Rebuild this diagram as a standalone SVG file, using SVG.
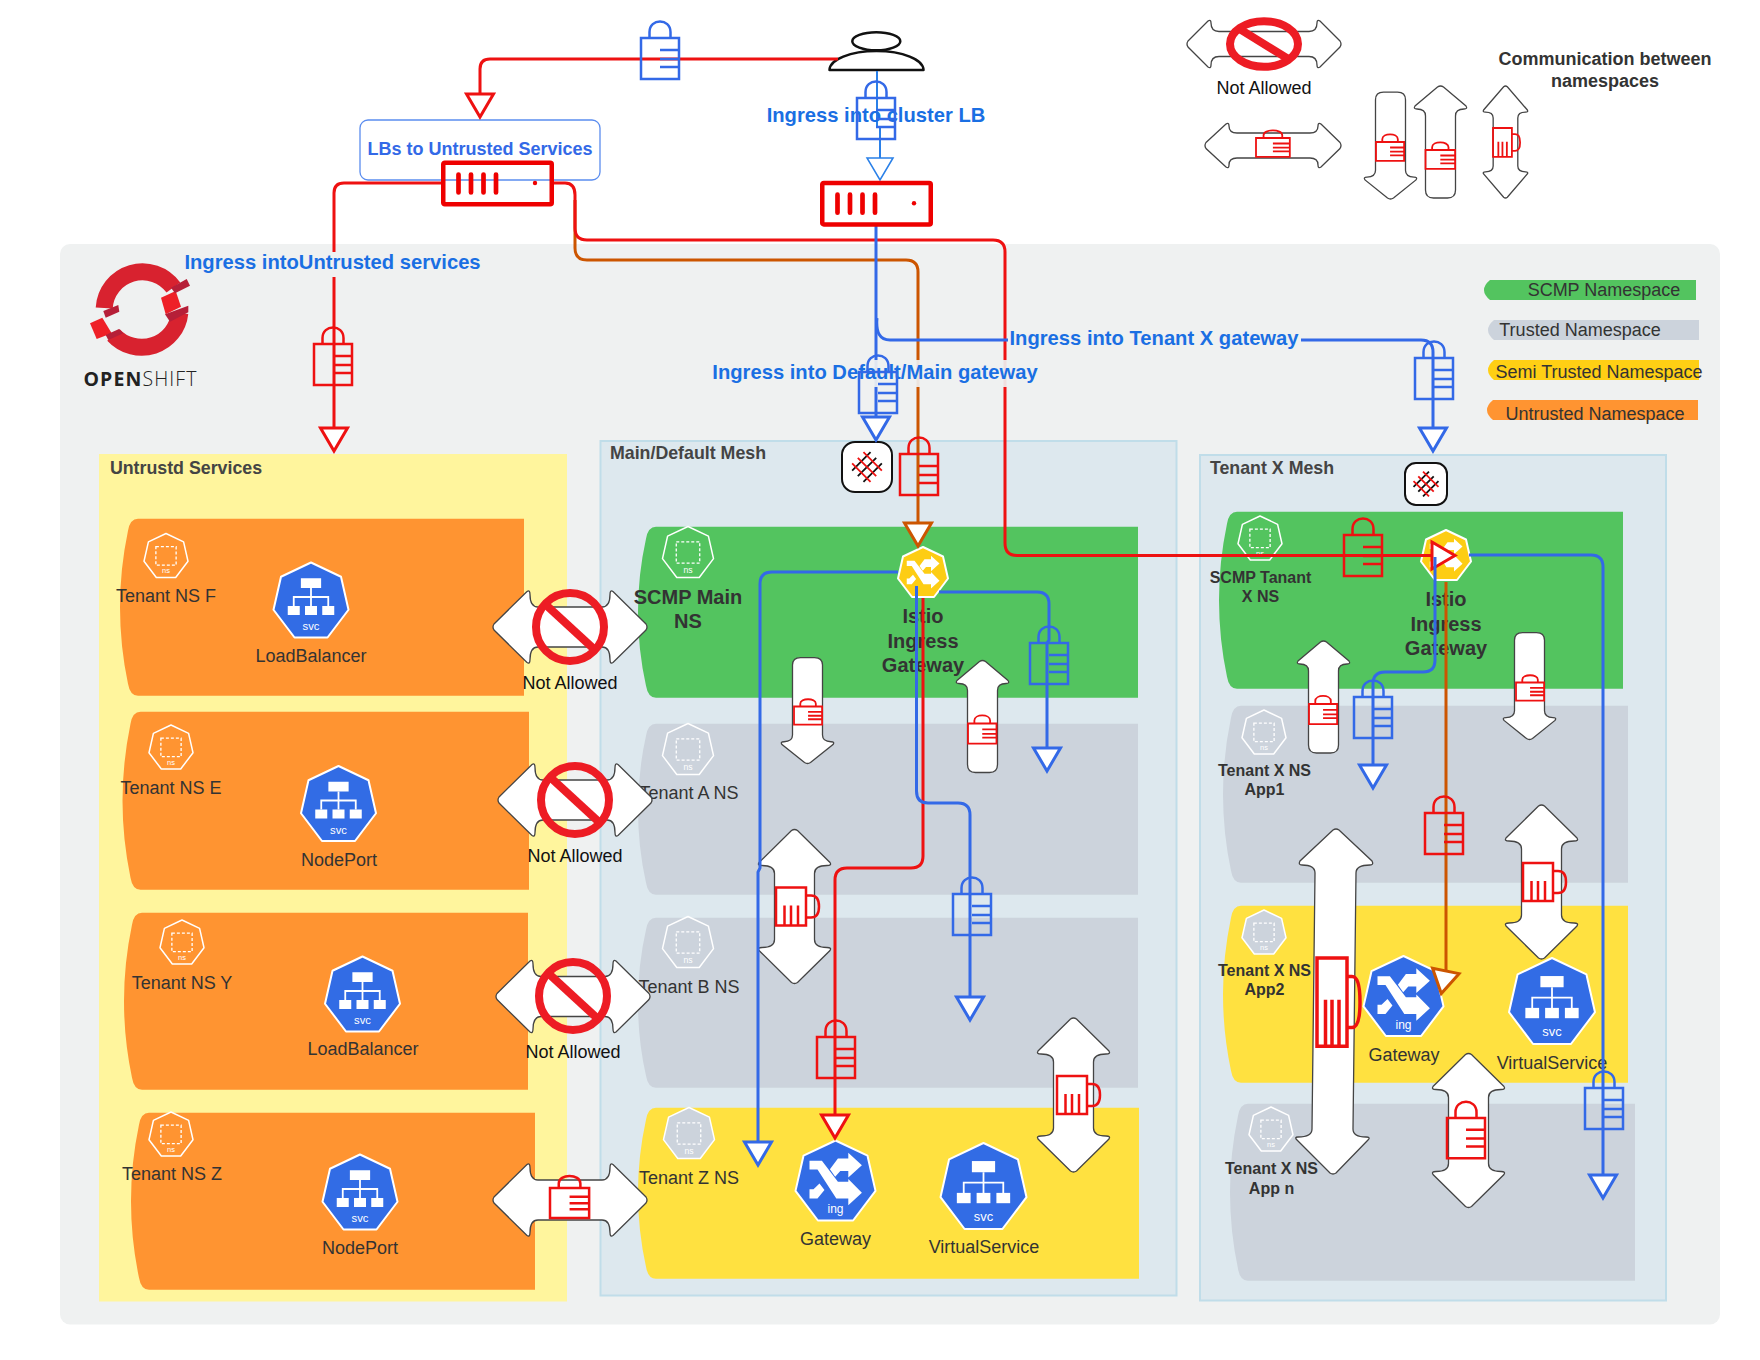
<svg xmlns="http://www.w3.org/2000/svg" xmlns:xlink="http://www.w3.org/1999/xlink" width="1760" height="1360" viewBox="0 0 1760 1360">
<style>
text{font-family:"Liberation Sans",Arial,sans-serif;text-anchor:middle;dominant-baseline:central;fill:#333}
.t18{font-size:18px;transform:translate(0,1px)}
.na{font-size:18px;fill:#111;transform:translate(0,1px)}
.b18{font-size:17.800px;font-weight:700;fill:#444}
.b20{font-size:20px;font-weight:700}
.b16{font-size:16px;font-weight:700;transform:translate(0,.7px)}
.lb{font-size:20.200px;font-weight:700;fill:#1a6fe3}
.lg{font-size:18px}
.tag{font-size:15px;fill:#fff}
.nst{font-size:17px;fill:#fff}
.ar{fill:#fff;stroke:#444;stroke-width:1.3}
.ns{fill:none;stroke:#fff;stroke-width:1.5}
.nsg{fill:#ccd3dc;stroke:#fff;stroke-width:1.5}
.r{stroke:#ee1111;fill:none;stroke-width:2.5}
.b{stroke:#3369e7;fill:none;stroke-width:2.5}
.thin{stroke-width:1.8}
.c{fill:none;stroke-width:3}
.cr{stroke:#ee1111}.cb{stroke:#3369e7}.co{stroke:#cc5500}
.area{transform:translate(0,.8px)}
defs *{vector-effect:non-scaling-stroke}
</style>
<defs>
<polygon id="hept" points="0,-50 40,-31 50,13 22,50 -22,50 -50,13 -40,-31" stroke-linejoin="round"/>
<g id="lock"><rect x="0" y="0" width="38" height="41"/><path d="M8.500 0V-6C8.500 -20 29.500 -20 29.500 -6V0M19 12H38M19 21H38M19 29H38"/></g>
<g id="mug"><rect x="0" y="0" width="30" height="38"/><path d="M30 8H35Q43 8 43 19Q43 30 35 30H30M8.500 18V38M15 18V38M22 18V38"/></g>
<g id="prohibit"><circle r="34" fill="none" stroke="#ed1c24" stroke-width="8"/><line x1="-25" y1="-23" x2="25" y2="23" stroke="#ed1c24" stroke-width="8"/></g>
<path id="arrowH" d="M1 33.500L34 1Q37 -1 37 4Q37 16.500 45 16.500L109 16.500Q117 16.500 117 4Q117 -1 120 1L153 33.500Q155 36.500 153 39.500L120 72Q117 74 117 69Q117 56.500 109 56.500L45 56.500Q37 56.500 37 69Q37 74 34 72L1 39.500Q-1 36.500 1 33.500Z"/>
<path id="arrowV" d="M33.500 1Q36.500 -1 39.500 1L72 33Q74 36 69 36Q56.500 36 56.500 44L56.500 110Q56.500 118 69 118Q74 118 72 121L39.500 153Q36.500 155 33.500 153L1 121Q-1 118 4 118Q16.500 118 16.500 110L16.500 44Q16.500 36 4 36Q-1 36 1 33Z"/>
<path id="arrowU" d="M23.500 1Q26.500 -1 29.500 1L52 20Q54 23 50 23Q41.500 23 41.500 30L41.500 104Q41.500 112 33.500 112L19.500 112Q11.500 112 11.500 104L11.500 30Q11.500 23 3 23Q-1 23 1 20Z"/>
<g id="svcicon" fill="#fff"><use href="#hept" fill="#326ce5" stroke="#fff" stroke-width="2"/><rect x="-13.500" y="-29" width="27" height="13"/><rect x="-31" y="8" width="16" height="12"/><rect x="-8" y="8" width="16" height="12"/><rect x="15" y="8" width="16" height="12"/><path d="M0 -16V8M-23 8V-4H23V8" fill="none" stroke="#fff" stroke-width="1.800"/></g>
<g id="xarrows" fill="#fff"><polygon points="-32.500,-24.600 -17,-24.600 3,1.700 16,1.700 16,-2 33,15.400 16,31 16,22.500 1,22.500 -22.500,-13.800 -32.500,-13.800"/><polygon points="-32.500,11 -27.500,11 -20,3.700 -13.800,12 -22.500,22.500 -32.500,22.500"/><polygon points="16,-34.600 33,-19 16,-3.700 16,-12 6,-12 -0.400,-4.600 -7,-14 3,-27.500 16,-27.500"/></g>
<g id="meshicon"><rect x="-25" y="-25" width="50" height="50" rx="13" fill="#fff" stroke="#111" stroke-width="2"/><path transform="rotate(-45)" d="M-13 -8H13M-13 0H13M-13 8H13" stroke="#111" stroke-width="1.800" fill="none"/><path transform="rotate(45)" d="M-13 -8H13M-13 0H13M-13 8H13" stroke="#ee1111" stroke-width="1.800" fill="none"/></g>
<g id="device"><rect x="2.250" y="2.250" width="108.500" height="41.500" rx="1.500" fill="none" stroke="#ee0000" stroke-width="4.500"/><path d="M17.500 14V32M30 14V32M42.500 14V32M55 14V32" stroke="#ee0000" stroke-width="4.700" stroke-linecap="round"/><circle cx="94" cy="22.500" r="2.200" fill="#ee0000"/></g>
<marker id="mr" markerUnits="userSpaceOnUse" markerWidth="26" markerHeight="30" viewBox="0 0 26 30" refX="0" refY="15" orient="auto" overflow="visible"><polygon points="0,1.500 23,15 0,28.500" fill="#fff" stroke="#ee1111" stroke-width="3"/></marker>
<marker id="mb" markerUnits="userSpaceOnUse" markerWidth="26" markerHeight="30" viewBox="0 0 26 30" refX="0" refY="15" orient="auto" overflow="visible"><polygon points="0,1.500 23,15 0,28.500" fill="#fff" stroke="#3369e7" stroke-width="3"/></marker>
<marker id="mo" markerUnits="userSpaceOnUse" markerWidth="26" markerHeight="30" viewBox="0 0 26 30" refX="0" refY="15" orient="auto" overflow="visible"><polygon points="0,1.500 23,15 0,28.500" fill="#fff" stroke="#cc5500" stroke-width="3"/></marker>
<marker id="mt" markerUnits="userSpaceOnUse" markerWidth="26" markerHeight="30" viewBox="0 0 26 30" refX="0" refY="15" orient="auto" overflow="visible"><polygon points="0,2 22,15 0,28" fill="#fff" stroke="#2a80e8" stroke-width="1.500"/></marker>
</defs>

<rect width="1760" height="1360" fill="#fff"/>
<rect id="openshift-panel" x="60" y="244" width="1660" height="1080.500" rx="10" fill="#eff1f1"/>

<g id="logo">
<path d="M173.400 287.600A38.300 38.300 0 0 0 104.200 308M113.500 334.900A38.300 38.300 0 0 0 179.800 313" fill="none" stroke="#d8222f" stroke-width="17"/>
<polygon points="161,297.700 175.700,291 181,306.700 165.700,314.300" fill="#ee2027"/>
<polygon points="90,323.300 102.300,317.700 111.700,333.300 96.700,339" fill="#ee2027"/>
<polygon points="171,287.700 186.700,279 190,285.700 175,293.300" fill="#b61f38"/>
<polygon points="103.300,311 118.300,305 119.300,311.700 105.700,317.700" fill="#b61f38"/>
<polygon points="165,314.300 188.300,305.700 188.300,312.300 170,321.700" fill="#b61f38"/>
<polygon points="105.700,335 119,329 123.300,333.300 108.300,340" fill="#b61f38"/>
<text x="140.500" y="378" style="font-family:'Open Sans','Liberation Sans',sans-serif;font-size:19.500px;letter-spacing:1.100px;fill:#222"><tspan font-weight="700">OPEN</tspan><tspan font-weight="300">SHIFT</tspan></text>
</g>

<g id="legend-namespaces">
<path d="M1490 280H1696V300H1490Q1484 295 1484 290Q1484 285 1490 280Z" fill="#53c45f"/>
<text class="lg" x="1604" y="290">SCMP Namespace</text>
<path d="M1494 320H1699V340H1494Q1488 335 1488 330Q1488 325 1494 320Z" fill="#ccd3dc"/>
<text class="lg" x="1580" y="330">Trusted Namespace</text>
<path d="M1494 360H1699V380H1494Q1488 375 1488 370Q1488 365 1494 360Z" fill="#ffcf14"/>
<text class="lg" x="1599" y="372">Semi Trusted Namespace</text>
<path d="M1493 400H1698V420H1493Q1487 415 1487 410Q1487 405 1493 400Z" fill="#ff9431"/>
<text class="lg" x="1595" y="414">Untrusted Namespace</text>
<text class="b18" style="fill:#333;font-size:18px" x="1605" y="59">Communication between</text>
<text class="b18" style="fill:#333;font-size:18px" x="1605" y="81">namespaces</text>
</g>

<g id="untrusted-services">
<rect x="99" y="454" width="468" height="847.500" fill="#fff59d"/>
<text class="b18" x="186" y="468">Untrustd Services</text>
</g>
<g id="main-mesh">
<rect x="600.500" y="441" width="576" height="854.500" fill="#dde8ee" stroke="#c0dde9" stroke-width="2"/>
<text class="b18" x="688" y="453">Main/Default Mesh</text>
</g>
<g id="tenant-mesh">
<rect x="1200" y="455" width="466" height="845.500" fill="#dde8ee" stroke="#c0dde9" stroke-width="2"/>
<text class="b18" x="1272" y="468">Tenant X Mesh</text>
</g>

<g id="ns-f"><path class="area" d="M138 518H524V695H138Q130 695 128 683Q120 645 120 606.500Q120 568 128 530Q130 518 138 518Z" fill="#ff9431"/>
<g transform="translate(166,555.500) scale(.44)"><use href="#hept" class="ns"/><rect x="-23" y="-20" width="46" height="42" fill="none" stroke="#fff" stroke-width="1.300" stroke-dasharray="3 2" vector-effect="non-scaling-stroke"/><text class="nst" y="35">ns</text></g>
<text class="t18" x="166" y="595">Tenant NS F</text></g>
<g id="ns-e"><path class="area" d="M140.500 711H529V889H140.500Q132.500 889 130.500 877Q122.500 838 122.500 800Q122.500 762 130.500 723Q132.500 711 140.500 711Z" fill="#ff9431"/>
<g transform="translate(171,747) scale(.44)"><use href="#hept" class="ns"/><rect x="-23" y="-20" width="46" height="42" fill="none" stroke="#fff" stroke-width="1.300" stroke-dasharray="3 2" vector-effect="non-scaling-stroke"/><text class="nst" y="35">ns</text></g>
<text class="t18" x="171" y="787">Tenant NS E</text></g>
<g id="ns-y"><path class="area" d="M142 912H528V1089H142Q134 1089 132 1077Q124 1039 124 1000.500Q124 962 132 924Q134 912 142 912Z" fill="#ff9431"/>
<g transform="translate(182,942) scale(.44)"><use href="#hept" class="ns"/><rect x="-23" y="-20" width="46" height="42" fill="none" stroke="#fff" stroke-width="1.300" stroke-dasharray="3 2" vector-effect="non-scaling-stroke"/><text class="nst" y="35">ns</text></g>
<text class="t18" x="182" y="982">Tenant NS Y</text></g>
<g id="ns-z"><path class="area" d="M149 1112H535V1289H149Q141 1289 139 1277Q131 1239 131 1200.500Q131 1162 139 1124Q141 1112 149 1112Z" fill="#ff9431"/>
<g transform="translate(171,1134) scale(.44)"><use href="#hept" class="ns"/><rect x="-23" y="-20" width="46" height="42" fill="none" stroke="#fff" stroke-width="1.300" stroke-dasharray="3 2" vector-effect="non-scaling-stroke"/><text class="nst" y="35">ns</text></g>
<text class="t18" x="172" y="1173">Tenant NS Z</text></g>

<g id="svc-lb-f"><g transform="translate(311,600) scale(.75)"><use href="#svcicon"/><text class="tag" y="35">svc</text></g><text class="t18" x="311" y="655">LoadBalancer</text></g>
<g id="svc-np-e"><g transform="translate(338.500,803.500) scale(.75)"><use href="#svcicon"/><text class="tag" y="35">svc</text></g><text class="t18" x="339" y="859">NodePort</text></g>
<g id="svc-lb-y"><g transform="translate(362.500,994) scale(.75)"><use href="#svcicon"/><text class="tag" y="35">svc</text></g><text class="t18" x="363" y="1048">LoadBalancer</text></g>
<g id="svc-np-z"><g transform="translate(360,1192) scale(.75)"><use href="#svcicon"/><text class="tag" y="35">svc</text></g><text class="t18" x="360" y="1247">NodePort</text></g>

<g id="scmp-main"><path class="area" d="M656 526H1138V697H656Q648 697 646 685Q638 649 638 611.500Q638 574 646 538Q648 526 656 526Z" fill="#53c45f"/>
<g transform="translate(688,552) scale(.51)"><use href="#hept" class="ns"/><rect x="-23" y="-20" width="46" height="42" fill="none" stroke="#fff" stroke-width="1.300" stroke-dasharray="3 2" vector-effect="non-scaling-stroke"/><text class="nst" y="35">ns</text></g>
<text class="b20" x="688" y="596.500">SCMP Main</text><text class="b20" x="688" y="621">NS</text></g>
<g id="tenant-a"><path class="area" d="M656 723H1138V894H656Q648 894 646 882Q638 846 638 808.500Q638 771 646 735Q648 723 656 723Z" fill="#ccd3dc"/>
<g transform="translate(688,749) scale(.51)"><use href="#hept" class="ns"/><rect x="-23" y="-20" width="46" height="42" fill="none" stroke="#fff" stroke-width="1.300" stroke-dasharray="3 2" vector-effect="non-scaling-stroke"/><text class="nst" y="35">ns</text></g>
<text class="t18" x="689" y="792">Tenant A NS</text></g>
<g id="tenant-b"><path class="area" d="M656 917H1138V1087H656Q648 1087 646 1075Q638 1040 638 1002Q638 964 646 929Q648 917 656 917Z" fill="#ccd3dc"/>
<g transform="translate(688,942) scale(.51)"><use href="#hept" class="ns"/><rect x="-23" y="-20" width="46" height="42" fill="none" stroke="#fff" stroke-width="1.300" stroke-dasharray="3 2" vector-effect="non-scaling-stroke"/><text class="nst" y="35">ns</text></g>
<text class="t18" x="689" y="986">Tenant B NS</text></g>
<g id="tenant-z"><path class="area" d="M656 1107H1139V1278H656Q648 1278 646 1266Q638 1230 638 1192.500Q638 1155 646 1119Q648 1107 656 1107Z" fill="#ffe140"/>
<g transform="translate(689,1133) scale(.51)"><use href="#hept" class="nsg"/><rect x="-23" y="-20" width="46" height="42" fill="none" stroke="#fff" stroke-width="1.300" stroke-dasharray="3 2" vector-effect="non-scaling-stroke"/><text class="nst" y="35">ns</text></g>
<text class="t18" x="689" y="1177">Tenant Z NS</text></g>

<g id="istio-main"><g transform="translate(923,572) scale(.5)"><use href="#hept" fill="#fdcd14" stroke="#fff" stroke-width="2"/><use href="#xarrows" y="2"/></g>
<text class="b20" x="923" y="616">Istio</text><text class="b20" x="923" y="640.500">Ingress</text><text class="b20" x="923" y="664.500">Gateway</text></g>
<g id="ing-z"><g transform="translate(835.500,1180.500) scale(.8)"><use href="#hept" fill="#326ce5" stroke="#fff" stroke-width="2"/><use href="#xarrows"/><text class="tag" y="36">ing</text></g><text class="t18" x="835.500" y="1238">Gateway</text></g>
<g id="svc-z"><g transform="translate(983.500,1186) scale(.86)"><use href="#svcicon"/><text class="tag" y="35">svc</text></g><text class="t18" x="984" y="1246">VirtualService</text></g>
<g id="mesh-main"><use href="#meshicon" transform="translate(867,467)"/></g>

<g id="scmp-tenant"><path class="area" d="M1237 511H1623V688H1237Q1229 688 1227 676Q1219 638 1219 599.500Q1219 561 1227 523Q1229 511 1237 511Z" fill="#53c45f"/>
<g transform="translate(1260,538) scale(.44)"><use href="#hept" class="ns"/><rect x="-23" y="-20" width="46" height="42" fill="none" stroke="#fff" stroke-width="1.300" stroke-dasharray="3 2" vector-effect="non-scaling-stroke"/><text class="nst" y="35">ns</text></g>
<text class="b16" x="1260.500" y="577">SCMP Tanant</text><text class="b16" x="1260.500" y="596">X NS</text></g>
<g id="app1"><path class="area" d="M1241 705H1628V882H1241Q1233 882 1231 870Q1223 832 1223 793.500Q1223 755 1231 717Q1233 705 1241 705Z" fill="#ccd3dc"/>
<g transform="translate(1264,732) scale(.44)"><use href="#hept" class="ns"/><rect x="-23" y="-20" width="46" height="42" fill="none" stroke="#fff" stroke-width="1.300" stroke-dasharray="3 2" vector-effect="non-scaling-stroke"/><text class="nst" y="35">ns</text></g>
<text class="b16" x="1264.500" y="770">Tenant X NS</text><text class="b16" x="1264.500" y="789">App1</text></g>
<g id="app2"><path class="area" d="M1241 905H1628V1082H1241Q1233 1082 1231 1070Q1223 1032 1223 993.500Q1223 955 1231 917Q1233 905 1241 905Z" fill="#ffe140"/>
<g transform="translate(1264,932) scale(.44)"><use href="#hept" class="nsg"/><rect x="-23" y="-20" width="46" height="42" fill="none" stroke="#fff" stroke-width="1.300" stroke-dasharray="3 2" vector-effect="non-scaling-stroke"/><text class="nst" y="35">ns</text></g>
<text class="b16" x="1264.500" y="970">Tenant X NS</text><text class="b16" x="1264.500" y="989">App2</text></g>
<g id="appn"><path class="area" d="M1248 1103H1635V1280H1248Q1240 1280 1238 1268Q1230 1230 1230 1191.500Q1230 1153 1238 1115Q1240 1103 1248 1103Z" fill="#ccd3dc"/>
<g transform="translate(1271,1129) scale(.44)"><use href="#hept" class="ns"/><rect x="-23" y="-20" width="46" height="42" fill="none" stroke="#fff" stroke-width="1.300" stroke-dasharray="3 2" vector-effect="non-scaling-stroke"/><text class="nst" y="35">ns</text></g>
<text class="b16" x="1271.500" y="1168">Tenant X NS</text><text class="b16" x="1271.500" y="1188">App n</text></g>

<g id="istio-tenant"><g transform="translate(1446,555) scale(.5)"><use href="#hept" fill="#fdcd14" stroke="#fff" stroke-width="2"/><use href="#xarrows" y="2"/></g>
<text class="b20" x="1446" y="599">Istio</text><text class="b20" x="1446" y="623.500">Ingress</text><text class="b20" x="1446" y="648">Gateway</text></g>
<g id="ing-app2"><g transform="translate(1403.500,996) scale(.8)"><use href="#hept" fill="#326ce5" stroke="#fff" stroke-width="2"/><use href="#xarrows"/><text class="tag" y="36">ing</text></g><text class="t18" x="1404" y="1054">Gateway</text></g>
<g id="svc-app2"><g transform="translate(1552,1001) scale(.86)"><use href="#svcicon"/><text class="tag" y="35">svc</text></g><text class="t18" x="1552" y="1062">VirtualService</text></g>
<g id="mesh-tenant"><use href="#meshicon" transform="translate(1426,484) scale(.84)"/></g>

<g id="lb-box"><rect x="360" y="120" width="240" height="60" rx="8" fill="#fff" stroke="#5b8def" stroke-width="1.300"/>
<text x="480" y="149" style="font-size:18px;font-weight:700;fill:#3369e7">LBs to Untrusted Services</text></g>
<g id="person"><ellipse cx="876.300" cy="41.200" rx="24" ry="9" fill="#fff" stroke="#111" stroke-width="2.500"/><path d="M829.500 70A47 19 0 0 1 923.500 70Z" fill="#fff" stroke="#111" stroke-width="2.500" stroke-linejoin="round"/></g>

<g id="comm-arrows">
<g id="na-f"><use href="#arrowH" class="ar" transform="translate(493,590.500)"/><use href="#prohibit" transform="translate(570,627)"/><text class="na" x="570" y="682">Not Allowed</text></g>
<g id="na-e"><use href="#arrowH" class="ar" transform="translate(498,763.500)"/><use href="#prohibit" transform="translate(575,800)"/><text class="na" x="575" y="855">Not Allowed</text></g>
<g id="na-y"><use href="#arrowH" class="ar" transform="translate(496,960)"/><use href="#prohibit" transform="translate(573,996)"/><text class="na" x="573" y="1051">Not Allowed</text></g>
<g id="lk-z"><use href="#arrowH" class="ar" transform="translate(493,1163.500)"/><use href="#lock" class="r" transform="translate(550,1188) scale(1.030,.73)"/></g>
<g id="legend-na"><path class="ar" d="M1188 41L1208 21Q1211 19 1211 23Q1211 31.500 1219 31.500L1309 31.500Q1317 31.500 1317 23Q1317 19 1320 21L1340 41Q1342 44 1340 47L1320 67Q1317 69 1317 65Q1317 56.500 1309 56.500L1219 56.500Q1211 56.500 1211 65Q1211 69 1208 67L1188 47Q1186 44 1188 41Z"/><use href="#prohibit" transform="translate(1264,44) scale(1,.67)"/><text class="na" x="1264" y="87">Not Allowed</text></g>
<g id="legend-h"><path class="ar" d="M1206 142.500L1226 124Q1229 122 1229 126Q1229 133 1237 133L1310 133Q1318 133 1318 126Q1318 122 1321 124L1340 142.500Q1342 145.500 1340 148.500L1321 167Q1318 169 1318 165Q1318 158 1310 158L1237 158Q1229 158 1229 165Q1229 169 1226 167L1206 148.500Q1204 145.500 1206 142.500Z"/><use href="#lock" class="r thin" transform="translate(1256,138) scale(.89,.46)"/></g>
<g id="legend-down"><use href="#arrowU" class="ar" transform="translate(1364,199) scale(1,-.955)"/><use href="#lock" class="r thin" transform="translate(1376,142) scale(.74,.46)"/></g>
<g id="legend-up"><use href="#arrowU" class="ar" transform="translate(1414,86)"/><use href="#lock" class="r thin" transform="translate(1425.500,150) scale(.78,.46)"/></g>
<g id="legend-v"><use href="#arrowV" class="ar" transform="translate(1483,86) scale(.616,.727)"/><use href="#mug" class="r thin" transform="translate(1493,128) scale(.63,.76)"/></g>
<g id="main-down"><use href="#arrowU" class="ar" transform="translate(781,763.500) scale(1,-.946)"/><use href="#lock" class="r thin" transform="translate(794,706.500) scale(.74,.44)"/></g>
<g id="main-up"><use href="#arrowU" class="ar" transform="translate(956,660.500)"/><use href="#lock" class="r thin" transform="translate(968,723.500) scale(.75,.49)"/></g>
<g id="main-v1"><use href="#arrowV" class="ar" transform="translate(758,829.500)"/><use href="#mug" class="r" transform="translate(776,887.500)"/></g>
<g id="main-v2"><use href="#arrowV" class="ar" transform="translate(1037,1018)"/><use href="#mug" class="r" transform="translate(1057,1076)"/></g>
<g id="tenant-up"><use href="#arrowU" class="ar" transform="translate(1297,641)"/><use href="#lock" class="r thin" transform="translate(1309,704) scale(.74,.49)"/></g>
<g id="tenant-down"><use href="#arrowU" class="ar" transform="translate(1503,739.500) scale(1,-.955)"/><use href="#lock" class="r thin" transform="translate(1516,682.500) scale(.74,.44)"/></g>
<g id="tenant-v1"><use href="#arrowV" class="ar" transform="translate(1505,805)"/><use href="#mug" class="r" transform="translate(1523,863)"/></g>
<g id="tenant-tall" transform="translate(0,1)"><path class="ar" d="M1333 829Q1336 827 1339 829L1372 860Q1374 864 1370 864Q1356 864 1356 872L1353 1128Q1353 1136 1366 1136Q1371 1136 1368 1139L1336 1172Q1333 1174 1330 1172L1297 1139Q1294 1136 1298 1136Q1312 1136 1312 1128L1315 872Q1315 864 1302 864Q1298 864 1300 860Z"/><use href="#mug" class="r" style="stroke-width:3.500" transform="translate(1317,957) scale(1,2.320)"/></g>
<g id="tenant-v2"><use href="#arrowV" class="ar" transform="translate(1432,1053.500)"/><use href="#lock" class="r" transform="translate(1447,1118) scale(1,.98)"/></g>
</g>

<g id="connectors">
<path class="c cr" d="M838 59H490Q480 59 480 69V94" marker-end="url(#mr)"/>
<path class="c cr" d="M442 183H344Q334 183 334 193V428" marker-end="url(#mr)"/>
<path class="c co" d="M575 200V248Q575 260 587 260H906Q918 260 918 272V523" marker-end="url(#mo)"/>
<path class="c cr" d="M553 183H565Q575 183 575 195V228Q575 240 587 240H993Q1005 240 1005 252V543Q1005 555.500 1017 555.500H1432" marker-end="url(#mr)"/>
<path class="c" stroke="#2a80e8" style="stroke-width:2" d="M877 71V127H880V158" marker-end="url(#mt)"/>
<path class="c cb" d="M876 226V417" marker-end="url(#mb)"/>
<path class="c cb" d="M877 318Q875 340 890 340H1421Q1433 340 1433 352V428" marker-end="url(#mb)"/>
<path class="c cb" d="M898 572H772Q760 572 760 584V868L758 872V1142" marker-end="url(#mb)"/>
<path class="c cb" d="M939 592H1037Q1049 592 1049 604V640L1047 643V748" marker-end="url(#mb)"/>
<path class="c cr" d="M923 598V856Q923 868 911 868H847Q835 868 835 880V1115" marker-end="url(#mr)"/>
<path class="c cb" d="M916.500 586V791Q916.500 803 928 803H958Q970 803 970 815V997" marker-end="url(#mb)"/>
<path class="c cb" d="M1469 555H1591Q1603 555 1603 567V1175" marker-end="url(#mb)"/>
<path class="c cb" d="M1435 557V660Q1435 672 1423 672H1385Q1373 672 1373 684V765" marker-end="url(#mb)"/>
<path class="c co" d="M1446 582V970L1445.800 971" marker-end="url(#mo)"/>
<rect x="183" y="252" width="299" height="25" fill="#eff1f1"/>
<text class="lb" x="332.500" y="262">Ingress intoUntrusted services</text>
<text class="lb" x="876" y="115">Ingress into cluster LB</text>
<rect x="711" y="360" width="328" height="27" fill="#eff1f1" opacity=".92"/>
<text class="lb" x="875" y="372">Ingress into Default/Main gateway</text>
<rect x="1008" y="327" width="293" height="25" fill="#eff1f1"/>
<text class="lb" x="1154" y="338">Ingress into Tenant X gateway</text>
</g>

<g id="devices"><use href="#device" transform="translate(441,160.500)"/><use href="#device" transform="translate(820,180.700)"/></g>

<g id="locks">
<use href="#lock" class="b" transform="translate(641,38)"/>
<use href="#lock" class="b" transform="translate(857,98)"/>
<use href="#lock" class="b" transform="translate(859,372)"/>
<use href="#lock" class="b" transform="translate(1415,358)"/>
<use href="#lock" class="r" transform="translate(314,344)"/>
<use href="#lock" class="r" transform="translate(900,454)"/>
<use href="#lock" class="b" transform="translate(1030,643)"/>
<use href="#lock" class="b" transform="translate(953,894)"/>
<use href="#lock" class="r" transform="translate(817,1037)"/>
<use href="#lock" class="r" transform="translate(1344,535)"/>
<use href="#lock" class="b" transform="translate(1354,697)"/>
<use href="#lock" class="r" transform="translate(1425,813)"/>
<use href="#lock" class="b" transform="translate(1585,1088)"/>
</g>
</svg>
